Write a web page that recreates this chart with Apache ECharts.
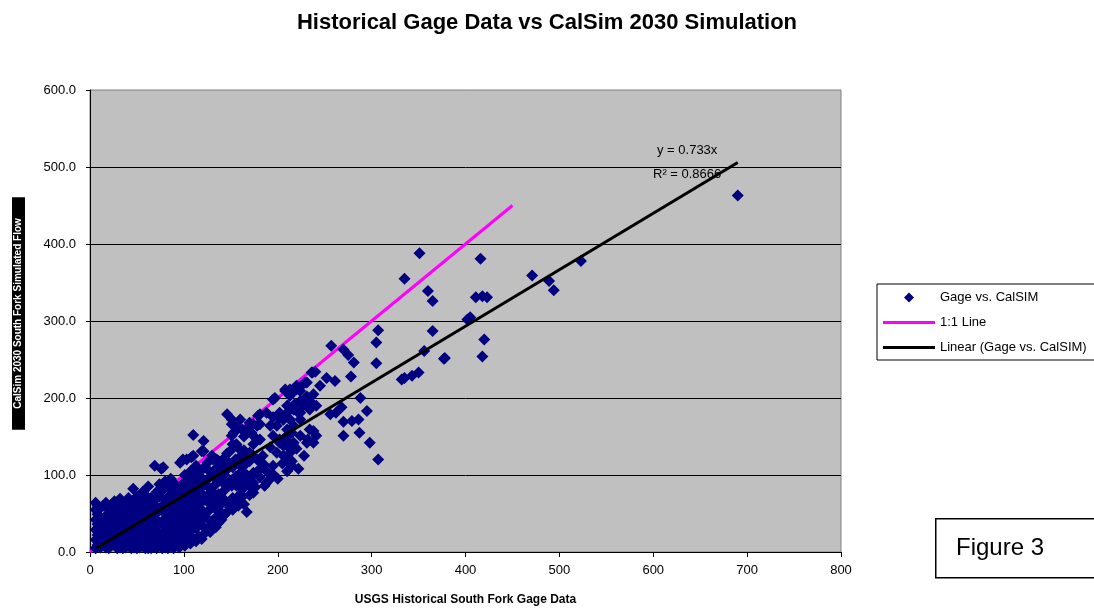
<!DOCTYPE html>
<html>
<head>
<meta charset="utf-8">
<script src="https://cdn.jsdelivr.net/npm/echarts@6/dist/echarts.min.js"></script>
<style>
  html, body { margin: 0; padding: 0; background: #fff; }
  #chart { width: 1094px; height: 611px; }
</style>
</head>
<body>
<div id="chart"></div>
<script>
// tick labels
const xTicks = [0, 100, 200, 300, 400, 500, 600, 700, 800]
const yTicks = [0, 100, 200, 300, 400, 500, 600]

// outlying high-flow points [gage, calsim]
const highPoints = [
  [690,463],[523,378],[489,352],[494,340],[471,359],[416,381],[411,331],[423,331],[418,332],
  [420,276],[418,254],[402,302],[405,305],[378,252],[351,388],[335,355],[360,339],[365,326],
  [365,287],[307,288],[305,272],[257,268],[270,263],[275,256],[281,246],[305,245],[356,261],
  [377,251],[350,233],[343,229],[335,226],[332,224],[278,228],[237,233],[261,222],[252,226],
  [245,216],[231,220],[225,216],[220,211],[213,211],[208,209],[234,196],[227,190],[217,185],
  [210,181],[206,172],[288,200],[295,183],[286,172],[279,170],[270,169],[262,181],[256,179],
  [268,188],[270,151],[287,155],[298,142],[307,120],[238,157],[232,146],[238,142],[224,172],
  [217,164],[210,151],[206,138],[213,129],[215,118]
]

// middle range points
const midPoints = [
  [146,179],[151,166],[110,152],[121,144],[119,131],[99,120],[108,123],[69,112],[78,110],
  [155,157],[156,140],[149,131],[135,120],[140,112],[135,105],[144,105],[160,172],[170,168],
  [178,164],[167,157],[174,151],[181,146],[181,179],[188,181],[195,175],[195,198],[208,211],
  [213,203],[220,216],[210,190],[217,185],[222,181],[206,172],[199,164],[210,159],[215,155],
  [195,151],[202,142],[211,138],[220,134],[192,136],[199,129],[206,125],[213,120],[215,112],
  [170,129],[178,120],[185,114],[181,108],[188,105],[195,101],[192,95],[156,86],[163,82],
  [170,86],[174,77],[160,75],[142,69],[138,60],[151,172],[197,200],[224,209],[236,233],
  [240,234],[229,220],[218,192],[224,196],[231,202],[238,205],[202,174],[213,172],[224,181],
  [234,185],[241,190],[179,177],[181,166],[192,164],[170,164],[172,155],[162,159],[153,155],
  [151,151],[213,155],[224,151],[234,159],[241,151],[231,142],[217,142],[206,146],[217,209],
  [211,190],[202,181],[174,166],[156,162],[76,108],[46,82],[96,116],[103,120],[110,125],
  [121,131],[130,125],[174,103],[181,97],[195,99],[186,86],[176,84],[209,146],[213,134],
  [163,97],[158,92],[151,86],[138,51],[131,58],[131,77],[126,69],[217,138],[213,120],
  [202,146],[188,90],[200,95],[210,105],[222,108],[205,115],[228,125],[195,112],[184,125]
]

// dense low-flow cluster
const lowPoints = [
  [6,5],[6,16],[6,29],[6,42],[6,55],[6,64],
  [8,9],[8,22],[8,36],[8,49],[8,60],
  [11,6],[11,18],[11,31],[11,45],[11,57],
  [14,12],[14,26],[14,40],[14,60],
  [17,6],[17,19],[17,33],[17,47],[17,64],
  [20,5],[20,24],[20,38],[20,55],
  [23,10],[23,16],[23,29],[23,44],[23,61],
  [26,9],[26,21],[26,35],[26,50],[26,66],
  [29,5],[29,13],[29,27],[29,41],[29,58],
  [32,6],[32,18],[32,32],[32,47],[32,69],
  [35,5],[35,11],[35,24],[35,38],[35,55],[35,63],
  [38,6],[38,15],[38,29],[38,43],[38,60],
  [41,8],[41,20],[41,34],[41,50],[41,70],
  [44,5],[44,13],[44,26],[44,40],[44,57],
  [47,6],[47,18],[47,31],[47,46],[47,64],
  [50,5],[50,10],[50,23],[50,37],[50,52],[50,72],
  [53,6],[53,15],[53,28],[53,43],[53,60],
  [56,8],[56,20],[56,34],[56,49],[56,67],[56,78],
  [59,5],[59,12],[59,25],[59,39],[59,55],[59,74],
  [62,5],[62,17],[62,30],[62,45],[62,62],[62,85],
  [65,5],[65,10],[65,22],[65,36],[65,52],[65,70],
  [68,7],[68,19],[68,33],[68,48],[68,66],
  [71,5],[71,14],[71,27],[71,42],[71,58],[71,78],
  [74,9],[74,22],[74,37],[74,54],[74,72],[74,88],
  [77,5],[77,12],[77,25],[77,40],[77,60],[77,80],
  [80,6],[80,18],[80,32],[80,50],[80,68],[80,92],
  [83,5],[83,14],[83,28],[83,45],[83,63],[83,84],
  [86,8],[86,21],[86,37],[86,55],[86,75],[86,95],
  [89,5],[89,16],[89,31],[89,49],[89,70],[89,90],
  [92,10],[92,24],[92,42],[92,60],[92,82],
  [95,6],[95,19],[95,36],[95,54],[95,76],
  [98,12],[98,28],[98,47],[98,67],[98,88],
  [101,8],[101,22],[101,40],[101,60],[101,80],[101,100],
  [104,15],[104,33],[104,52],[104,72],[104,93],
  [107,11],[107,27],[107,46],[107,66],[107,85],[107,105],
  [110,18],[110,38],[110,58],[110,78],[110,98],
  [113,14],[113,31],[113,50],[113,70],[113,90],[113,112],
  [116,20],[116,42],[116,62],[116,83],[116,103],
  [119,17],[119,35],[119,55],[119,76],[119,96],
  [122,24],[122,46],[122,68],[122,88],[122,110],
  [125,30],[125,52],[125,73],[125,94],[125,116],
  [128,26],[128,40],[128,62],[128,82],[128,104],
  [131,34],[131,98],[131,120],
  [134,32],[134,45],[134,66],[134,88],[134,108],
  [137,38],[137,55],[137,75],[137,96],[137,118],
  [140,42],[140,70],[140,92],[140,112],
  [143,48],[143,80],[143,100],[143,122],
  [146,52],[146,64],[146,85],[146,108],[146,128],
  [149,58],[149,92],[149,115],
  [152,55],[152,70],[152,110],[152,140],
  [155,66],[155,98],[155,120],
  [158,60],[158,115],[158,135],
  [161,70],[161,104],[161,125],
  [164,62],[164,90],[164,112],[164,132],[164,150],
  [167,52],[167,100],[167,120],
  [170,74],[170,95],[170,118],
  [174,90],[174,125],[174,140]
]

const gagePoints = highPoints.concat(midPoints, lowPoints)

// Excel trendline through the origin and the 1:1 reference
const trendSlope = 0.733
const trendRange = [7, 690]
const oneToOneRange = [0, 450]

const trendData = trendRange.map(x => [x, x * trendSlope])
const oneToOneData = oneToOneRange.map(x => [x, x])

const font = "'Liberation Sans', Arial, sans-serif"
// legend icons: flat bar for the lines, small diamond padded to the full icon width
const lineIcon = 'path://M0,0H52V3H0Z'
const diamondIcon = 'path://M0,0M52,10M26,0L31,5L26,10L21,5Z'

const chart = echarts.init(document.getElementById('chart'))

const option = {
  animation: false,
  backgroundColor: '#fff',
  textStyle: { fontFamily: font },
  title: {
    text: 'Historical Gage Data vs CalSim 2030 Simulation',
    left: 'center',
    top: 7,
    textStyle: { fontSize: 22, fontWeight: 'bold', color: '#000', fontFamily: font }
  },
  grid: {
    left: 90, right: 253, top: 90, bottom: 58,
    show: true,
    backgroundColor: '#c0c0c0',
    borderColor: '#808080',
    borderWidth: 1
  },
  legend: {
    orient: 'vertical',
    left: 877,
    top: 284,
    padding: [7, 12, 6, 6],
    itemWidth: 52,
    itemHeight: 10,
    itemGap: 12,
    symbolKeepAspect: true,
    borderColor: '#000',
    borderWidth: 1,
    backgroundColor: '#fff',
    textStyle: { color: '#000', fontSize: 13, fontFamily: font },
    data: [
      { name: 'Gage vs. CalSIM', icon: diamondIcon },
      { name: '1:1 Line', icon: lineIcon },
      { name: 'Linear (Gage vs. CalSIM)', icon: lineIcon }
    ]
  },
  xAxis: {
    type: 'value',
    min: xTicks[0],
    max: xTicks[xTicks.length - 1],
    interval: 100,
    name: 'USGS Historical South Fork Gage Data',
    nameLocation: 'middle',
    nameGap: 42,
    nameTextStyle: { fontSize: 12, fontWeight: 'bold', color: '#000', fontFamily: font },
    axisLine: { onZero: false, lineStyle: { color: '#000', width: 1 } },
    axisTick: { show: true, length: 5, lineStyle: { color: '#000' } },
    axisLabel: { color: '#000', fontSize: 13, margin: 12, fontFamily: font },
    splitLine: { show: false }
  },
  yAxis: {
    type: 'value',
    min: yTicks[0],
    max: yTicks[yTicks.length - 1],
    interval: 100,
    axisLine: { onZero: false, lineStyle: { color: '#000', width: 1 } },
    axisTick: { show: true, length: 4, lineStyle: { color: '#000' } },
    axisLabel: {
      color: '#000', fontSize: 13, margin: 14, fontFamily: font,
      formatter: v => v.toFixed(1)
    },
    splitLine: { show: true, showMaxLine: false, lineStyle: { color: '#000', width: 1 } }
  },
  series: [
    {
      name: '1:1 Line',
      type: 'line',
      data: oneToOneData,
      symbol: 'none',
      lineStyle: { color: '#ff00ff', width: 3 },
      itemStyle: { color: '#ff00ff' },
      z: 2
    },
    {
      name: 'Gage vs. CalSIM',
      type: 'scatter',
      data: gagePoints,
      symbol: 'diamond',
      symbolSize: 12,
      itemStyle: { color: '#000080', opacity: 1 },
      z: 3
    },
    {
      name: 'Linear (Gage vs. CalSIM)',
      type: 'line',
      data: trendData,
      symbol: 'none',
      lineStyle: { color: '#000', width: 3 },
      itemStyle: { color: '#000' },
      z: 4
    }
  ],
  graphic: [
    // y-axis title: white text on a black strip, as in the source
    {
      type: 'text', x: 18.5, y: 313.5, rotation: Math.PI / 2, z: 10,
      style: {
        text: 'CalSim 2030 South Fork Simulated Flow',
        fill: '#fff', backgroundColor: '#000',
        font: 'bold 10px ' + font,
        align: 'center', verticalAlign: 'middle',
        padding: [1, 21], lineHeight: 11
      }
    },
    {
      type: 'text', left: 657, top: 144, z: 10,
      style: { text: 'y = 0.733x', fill: '#000', font: '13px ' + font }
    },
    {
      type: 'text', left: 653, top: 168, z: 10,
      style: { text: 'R\u00b2 = 0.8666', fill: '#000', font: '13px ' + font }
    },
    {
      type: 'rect', left: 935, top: 518, z: 10,
      shape: { width: 180, height: 59 },
      style: { fill: '#fff', stroke: '#000', lineWidth: 1.5 }
    },
    {
      type: 'text', left: 956, top: 536, z: 11,
      style: { text: 'Figure 3', fill: '#000', font: '24px ' + font }
    }
  ]
}

chart.setOption(option)

window.addEventListener('resize', () => {
  chart.resize()
})
</script>
</body>
</html>
